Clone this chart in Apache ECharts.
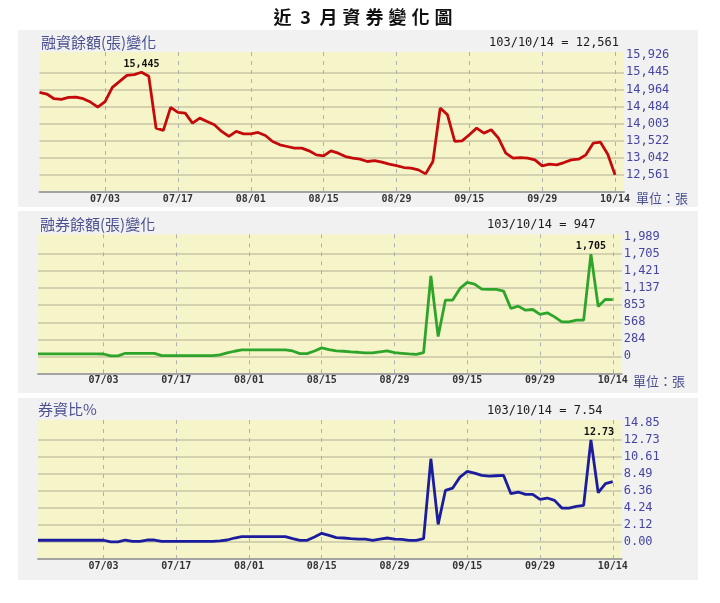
<!DOCTYPE html>
<html><head><meta charset="utf-8">
<script src="https://cdn.jsdelivr.net/npm/echarts@6/dist/echarts.min.js"></script>
<style>html,body{margin:0;padding:0;background:#fff}#c{width:720px;height:603px}</style>
</head><body><div id="c"></div><script>
const mainTitle = '近3月資券變化圖';
const marginTitle = '融資餘額(張)變化';
const shortTitle = '融券餘額(張)變化';
const ratioTitle = '券資比%';
const unitText = '單位：張';
const latestDate = '103/10/14';

const dates = [
 '06/20','06/23','06/24','06/25','06/26','06/27','06/30','07/01','07/02','07/03',
 '07/04','07/07','07/08','07/09','07/10','07/11','07/14','07/15','07/16','07/17',
 '07/18','07/21','07/22','07/24','07/25','07/28','07/29','07/30','07/31','08/01',
 '08/04','08/05','08/06','08/07','08/08','08/11','08/12','08/13','08/14','08/15',
 '08/18','08/19','08/20','08/21','08/22','08/25','08/26','08/27','08/28','08/29',
 '09/01','09/02','09/03','09/04','09/05','09/09','09/10','09/11','09/12','09/15',
 '09/16','09/17','09/18','09/19','09/22','09/23','09/24','09/25','09/26','09/29',
 '09/30','10/01','10/02','10/03','10/06','10/07','10/08','10/09','10/13','10/14'
];
const xTickLabels = ['07/03','07/17','08/01','08/15','08/29','09/15','09/29','10/14'];

const marginValues = [
 14880,14833,14702,14683,14739,14749,14702,14608,14467,14620,
 15021,15190,15360,15380,15445,15331,13876,13810,14458,14317,
 14298,14016,14157,14063,13970,13782,13641,13782,13716,13716,
 13753,13669,13500,13406,13359,13312,13312,13237,13124,13096,
 13237,13171,13077,13030,13002,12937,12965,12918,12861,12824,
 12768,12749,12702,12589,12937,14439,14251,13500,13519,13688,
 13876,13735,13829,13594,13171,13030,13049,13030,12984,12815,
 12861,12843,12908,12984,13002,13124,13453,13481,13143,12561
];
const shortValues = [
 40,40,40,40,40,40,40,40,40,38,
 8,8,50,50,50,50,48,11,11,11,
 11,11,11,11,11,22,56,84,106,106,
 106,106,106,106,106,89,45,45,89,140,
 112,89,84,73,67,56,56,73,89,61,
 50,39,33,60,1340,330,938,938,1133,1233,
 1206,1122,1116,1116,1088,798,837,770,781,698,
 725,658,575,575,603,603,1705,830,950,947
];
const ratioValues = [
 0.22,0.22,0.22,0.22,0.22,0.22,0.22,0.22,0.22,0.22,
 0.02,0.02,0.25,0.08,0.08,0.25,0.25,0.08,0.08,0.08,
 0.08,0.08,0.08,0.08,0.08,0.15,0.25,0.50,0.67,0.67,
 0.67,0.67,0.67,0.67,0.67,0.42,0.21,0.21,0.62,1.08,
 0.83,0.54,0.50,0.42,0.37,0.37,0.21,0.37,0.50,0.37,
 0.33,0.21,0.21,0.42,10.39,2.20,6.44,6.73,8.10,8.81,
 8.60,8.31,8.23,8.27,8.31,6.03,6.24,5.94,5.94,5.32,
 5.49,5.20,4.24,4.24,4.45,4.57,12.73,6.15,7.28,7.54
];

const marginTicks = [12561,13042,13522,14003,14484,14964,15445,15926];
const marginTickLabels = ['12,561','13,042','13,522','14,003','14,484','14,964','15,445','15,926'];
const shortTicks = [0,284,568,853,1137,1421,1705,1989];
const shortTickLabels = ['0','284','568','853','1,137','1,421','1,705','1,989'];
const ratioTicks = [0,2.12,4.24,6.36,8.49,10.61,12.73,14.85];
const ratioTickLabels = ['0.00','2.12','4.24','6.36','8.49','10.61','12.73','14.85'];

const fmtInt = v => Math.round(v).toLocaleString('en-US');
const fmtPct = v => Number(v).toFixed(2);

const panels = [
  {name: marginTitle, values: marginValues, ticks: marginTicks, labels: marginTickLabels, fmt: fmtInt,
   color: '#c40a0a', yMin: 12080, yMax: 16015,
   grid: {left: 39.5, top: 52, width: 584.5, height: 140},
   bg: {x: 18, y: 30, width: 680, height: 177},
   titleTop: 35, titleLeft: 41, latestLeft: 489, latestTop: 37,
   unit: {left: 636, top: 192}, maxOffset: [0, 0]},
  {name: shortTitle, values: shortValues, ticks: shortTicks, labels: shortTickLabels, fmt: fmtInt,
   color: '#2ea52a', yMin: -284, yMax: 2036,
   grid: {left: 38, top: 234.3, width: 583.7, height: 139},
   bg: {x: 18, y: 211, width: 680, height: 182},
   titleTop: 217, titleLeft: 40, latestLeft: 487, latestTop: 219,
   unit: {left: 633, top: 375}, maxOffset: [0, 0]},
  {name: ratioTitle, values: ratioValues, ticks: ratioTicks, labels: ratioTickLabels, fmt: fmtPct,
   color: '#1c1c9e', yMin: -2.12, yMax: 15.23,
   grid: {left: 38, top: 420, width: 583.7, height: 139},
   bg: {x: 18, y: 398, width: 680, height: 182},
   titleTop: 402, titleLeft: 38, latestLeft: 487, latestTop: 404.5,
   unit: null, maxOffset: [8, 0]}
];

const xTickIdx = xTickLabels.map(l => dates.indexOf(l));
const xMax = 80.23;

const titles = [{
  text: mainTitle.split('').map(ch => '{c|' + ch + '}').join(''),
  left: 271, top: 8, padding: 0,
  textStyle: {rich: {c: {width: 23, align: 'center', fontSize: 18, fontWeight: 'bold',
    fontFamily: 'Noto Sans CJK TC', color: '#111'}}}
}];
const grids = [], xAxes = [], yAxes = [], series = [], rects = [];

panels.forEach((p, k) => {
  rects.push({type: 'rect', z: -100, silent: true, shape: p.bg, style: {fill: '#f1f1f1'}});
  titles.push({text: p.name, left: p.titleLeft, top: p.titleTop, padding: 0,
    textStyle: {fontSize: 15, fontWeight: 'normal', fontFamily: 'Noto Sans CJK TC', color: '#4b5190'}});
  titles.push({text: latestDate + ' = ' + p.fmt(p.values[p.values.length - 1]),
    left: p.latestLeft, top: p.latestTop, padding: 0,
    textStyle: {fontSize: 12, fontWeight: 'normal', fontFamily: 'DejaVu Sans Mono', color: '#1a1a1a'}});
  if (p.unit) {
    titles.push({text: unitText, left: p.unit.left, top: p.unit.top, padding: 0,
      textStyle: {fontSize: 13, fontWeight: 'normal', fontFamily: 'Noto Sans CJK TC', color: '#4b5190'}});
  }
  grids.push(Object.assign({show: true, backgroundColor: '#f6f5c9', borderWidth: 0}, p.grid));
  xAxes.push({
    type: 'value', gridIndex: k, min: 0, max: xMax,
    axisLine: {show: true, onZero: false, lineStyle: {color: '#a3a3a3', width: 2}},
    axisTick: {show: false, customValues: xTickIdx},
    axisLabel: {customValues: xTickIdx, formatter: v => dates[Math.round(v)], margin: 2,
      fontFamily: 'DejaVu Sans Mono', fontWeight: 'bold', fontSize: 10, color: '#333'},
    splitLine: {show: true, lineStyle: {type: [4, 5], color: '#b0b0b0', width: 1}}
  });
  yAxes.push({
    type: 'value', gridIndex: k, position: 'right', min: p.yMin, max: p.yMax,
    axisLine: {show: false},
    axisTick: {show: false, customValues: p.ticks.slice(0, -1)},
    axisLabel: {customValues: p.ticks, margin: 2,
      formatter: v => { const i = p.ticks.findIndex(t => Math.abs(t - v) < 1e-6); return i >= 0 ? p.labels[i] : ''; },
      fontFamily: 'DejaVu Sans Mono', fontSize: 12, color: '#4545a2'},
    splitLine: {show: true, lineStyle: {color: '#c9c5a6', width: 1.5}}
  });
  series.push({
    type: 'line', xAxisIndex: k, yAxisIndex: k,
    data: p.values.map((v, i) => [i, v]),
    symbol: 'none', animation: false,
    lineStyle: {color: p.color, width: 2.8},
    markPoint: {
      symbol: 'circle', symbolSize: 0, animation: false,
      data: [{type: 'max', valueDim: 'y'}],
      label: {show: true, position: 'top', distance: 3, offset: p.maxOffset,
        formatter: prm => p.fmt(Array.isArray(prm.value) ? prm.value[1] : prm.value),
        fontFamily: 'DejaVu Sans Mono', fontWeight: 'bold', fontSize: 10, color: '#111'}
    }
  });
});

const chart = echarts.init(document.getElementById('c'));
chart.setOption({
  backgroundColor: '#ffffff',
  animation: false,
  title: titles,
  graphic: {elements: rects},
  grid: grids,
  xAxis: xAxes,
  yAxis: yAxes,
  series: series
});
</script></body></html>
